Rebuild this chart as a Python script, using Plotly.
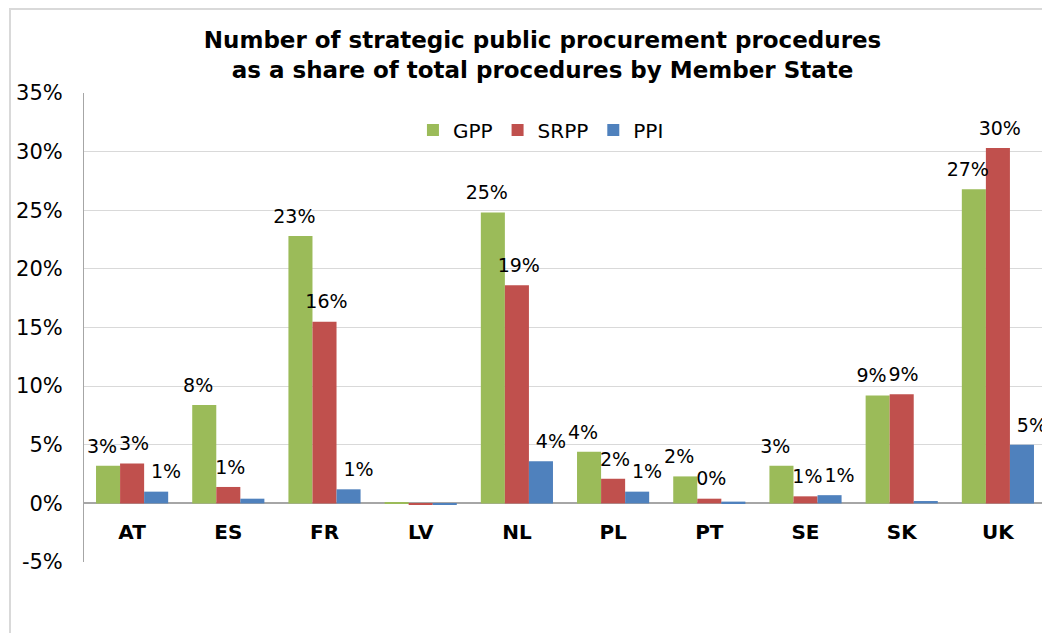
import plotly.graph_objects as go

countries = ["AT", "ES", "FR", "LV", "NL", "PL", "PT", "SE", "SK", "UK"]
gpp = [3.2, 8.4, 22.8, 0.1, 24.8, 4.4, 2.3, 3.2, 9.2, 26.8]
srpp = [3.4, 1.4, 15.5, -0.1, 18.6, 2.1, 0.4, 0.6, 9.3, 30.3]
ppi = [1.0, 0.4, 1.2, -0.1, 3.6, 1.0, 0.15, 0.7, 0.2, 5.0]
gpp_labels = ["3%", "8%", "23%", "", "25%", "4%", "2%", "3%", "9%", "27%"]
srpp_labels = ["3%", "1%", "16%", "", "19%", "2%", "0%", "1%", "9%", "30%"]
ppi_labels = ["1%", "", "1%", "", "4%", "1%", "", "1%", "", "5%"]
y_ticks = [-5, 0, 5, 10, 15, 20, 25, 30, 35]
y_tick_text = ["-5%", "0%", "5%", "10%", "15%", "20%", "25%", "30%", "35%"]
title_lines = ["Number of strategic public procurement procedures",
               "as a share of total procedures by Member State"]

series = [
    ("GPP", gpp, gpp_labels, "#9BBB59"),
    ("SRPP", srpp, srpp_labels, "#C0504D"),
    ("PPI", ppi, ppi_labels, "#4F81BD"),
]

fig = go.Figure()
for name, vals, labels, color in series:
    fig.add_trace(go.Bar(
        name=name, x=countries, y=vals, offsetgroup=name,
        marker=dict(color=color, line=dict(width=0)),
    ))
for name, vals, labels, color in series:
    fig.add_trace(go.Scatter(
        name=name + " labels", x=countries, y=vals, offsetgroup=name,
        xaxis="x2",
        mode="markers+text", text=labels, textposition="top center",
        marker=dict(size=12, opacity=0, color=color),
        textfont=dict(family="DejaVu Sans", size=19, color="#000000"),
        showlegend=False, hoverinfo="skip", cliponaxis=False,
    ))

# page body adds an 8px offset; figure is sized to fill the rest of the window
W, H = 1042, 625
ml, mr, mt, mb = 76, 4, 85, 71
pw = W - ml - mr
ph = H - mt - mb
xpos = (-1.27 + 5) / 40

fig.update_layout(
    width=W, height=H,
    margin=dict(l=ml, r=mr, t=mt, b=mb),
    paper_bgcolor="white", plot_bgcolor="white",
    barmode="group", bargap=0.25, bargroupgap=0,
    scattermode="group", scattergap=0.0,
    font=dict(family="DejaVu Sans", color="#000000"),
    title=dict(
        text="<b>" + "<br>".join(title_lines) + "</b>",
        x=0.513, xanchor="center", y=0.936, yanchor="top",
        font=dict(family="DejaVu Sans", size=23, color="#000000"),
    ),
    legend=dict(
        orientation="h", x=0.475, xanchor="center", y=0.921, yanchor="middle",
        bgcolor="rgba(0,0,0,0)", font=dict(size=20),
        itemwidth=30, traceorder="normal",
    ),
    xaxis=dict(
        type="category", categoryarray=countries, range=[-0.5, 9.5],
        anchor="free", position=xpos,
        showline=False, showgrid=False, ticks="",
        tickfont=dict(family="DejaVu Sans", size=20, color="#000000", weight="bold"),
    ),
    xaxis2=dict(
        type="category", categoryarray=countries, range=[-0.52, 9.48],
        overlaying="x", anchor="free", position=xpos,
        showline=False, showgrid=False, ticks="", showticklabels=False,
    ),
    yaxis=dict(
        range=[-5, 35], tickvals=y_ticks, ticktext=y_tick_text,
        showgrid=True, gridcolor="#d9d9d9", gridwidth=1,
        zeroline=True, zerolinecolor="#a6a6a6", zerolinewidth=1.5,
        showline=True, linecolor="#a6a6a6", linewidth=1,
        ticks="", ticklabelstandoff=16,
        tickfont=dict(family="DejaVu Sans", size=21, color="#000000"),
    ),
    shapes=[
        dict(type="rect", xref="paper", yref="paper",
             x0=(2 - ml) / pw, x1=1.2, y0=-0.3, y1=(H - mb - 1) / ph,
             line=dict(color="#d9d9d9", width=2), layer="below"),
    ],
)

fig.write_html("out.html")
